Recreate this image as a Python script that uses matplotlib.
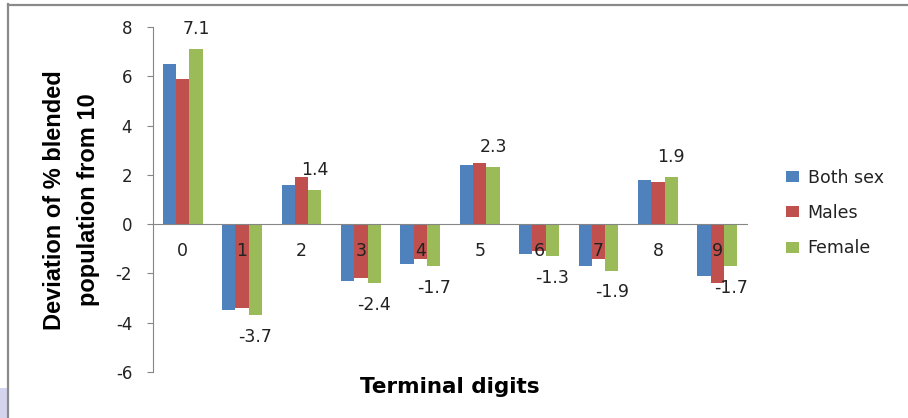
import matplotlib
matplotlib.use("Agg")
import matplotlib.pyplot as plt
import numpy as np
from matplotlib.lines import Line2D
from matplotlib.patches import Rectangle

categories = ["0", "1", "2", "3", "4", "5", "6", "7", "8", "9"]
both_sex = [6.5, -3.5, 1.6, -2.3, -1.6, 2.4, -1.2, -1.7, 1.8, -2.1]
males = [5.9, -3.4, 1.9, -2.2, -1.4, 2.5, -1.1, -1.4, 1.7, -2.4]
female = [7.1, -3.7, 1.4, -2.4, -1.7, 2.3, -1.3, -1.9, 1.9, -1.7]
series_names = ["Both sex", "Males", "Female"]
colors = ["#4F81BD", "#C0504D", "#9BBB59"]
y_ticks = [-6, -4, -2, 0, 2, 4, 6, 8]

W, H = 908, 418
fig = plt.figure(figsize=(W / 100, H / 100), dpi=100)
fig.patch.set_facecolor("white")

ax_left, ax_right, ax_top, ax_bot = 153, 747, 27, 372
ax = fig.add_axes([ax_left / W, 1 - ax_bot / H, (ax_right - ax_left) / W, (ax_bot - ax_top) / H])

x = np.arange(len(categories))
bw = 0.224
for i, (vals, name, c) in enumerate(zip([both_sex, males, female], series_names, colors)):
    ax.bar(x + (i - 1) * bw, vals, width=bw, color=c, label=name, zorder=2)

ax.set_xlim(-0.5, len(categories) - 0.5)
ax.set_ylim(-6, 8)
ax.set_yticks(y_ticks)
ax.set_yticklabels([str(t) for t in y_ticks])
ax.set_xticks(x)
ax.set_xticklabels(categories)
ax.set_axisbelow(False)
ax.xaxis.set_zorder(5)

grey = "#868686"
for s in ["top", "right"]:
    ax.spines[s].set_visible(False)
ax.spines["left"].set_color(grey)
ax.spines["bottom"].set_color(grey)
ax.spines["bottom"].set_position(("data", 0))
ax.spines["bottom"].set_zorder(3)
ax.tick_params(axis="y", direction="out", length=4, color=grey, pad=11,
               labelsize=12, labelcolor="#222222")
ax.tick_params(axis="x", length=0, pad=13, labelsize=12.5, labelcolor="#222222")

# data labels on Female series
for xi, v in zip(x, female):
    off = 14.5 if v >= 0 else -15.5
    ax.annotate(f"{v:.1f}", (xi + bw, v), xytext=(0, off), textcoords="offset points",
                ha="center", va="center", fontsize=12.5, color="#222222", zorder=6)

# y label (two lines)
ylab_family = ["Liberation Sans Narrow", "Liberation Sans", "DejaVu Sans"]
fig.text(55 / W, 1 - 200 / H, "Deviation of % blended", rotation=90, ha="center", va="center",
         fontsize=17, fontweight="bold", family=ylab_family)
fig.text(89 / W, 1 - 200 / H, "population from 10", rotation=90, ha="center", va="center",
         fontsize=17, fontweight="bold", family=ylab_family)

# x label
fig.text(450 / W, 1 - 387 / H, "Terminal digits", ha="center", va="center",
         fontsize=15.5, fontweight="bold", color="black")

# legend
leg = fig.legend(loc="center left", bbox_to_anchor=(786 / W, 1 - 213 / H), frameon=False,
                 fontsize=12.5, handlelength=0.75, handleheight=0.6, handletextpad=0.5,
                 labelspacing=1.0, borderpad=0, borderaxespad=0)
for t in leg.get_texts():
    t.set_color("#222222")

# border lines
fig.add_artist(Line2D([8 / W, 8 / W], [0, 1 - 4 / H], color="#8a8a8a", lw=1.6))
fig.add_artist(Line2D([8 / W, 1], [1 - 4.5 / H, 1 - 4.5 / H], color="#8a8a8a", lw=1.6))
fig.add_artist(Rectangle((0, 0), 7 / W, 30 / H, transform=fig.transFigure,
                         facecolor="#d4d4ee", edgecolor="none"))

fig.savefig("out.png", dpi=100, facecolor="white")
